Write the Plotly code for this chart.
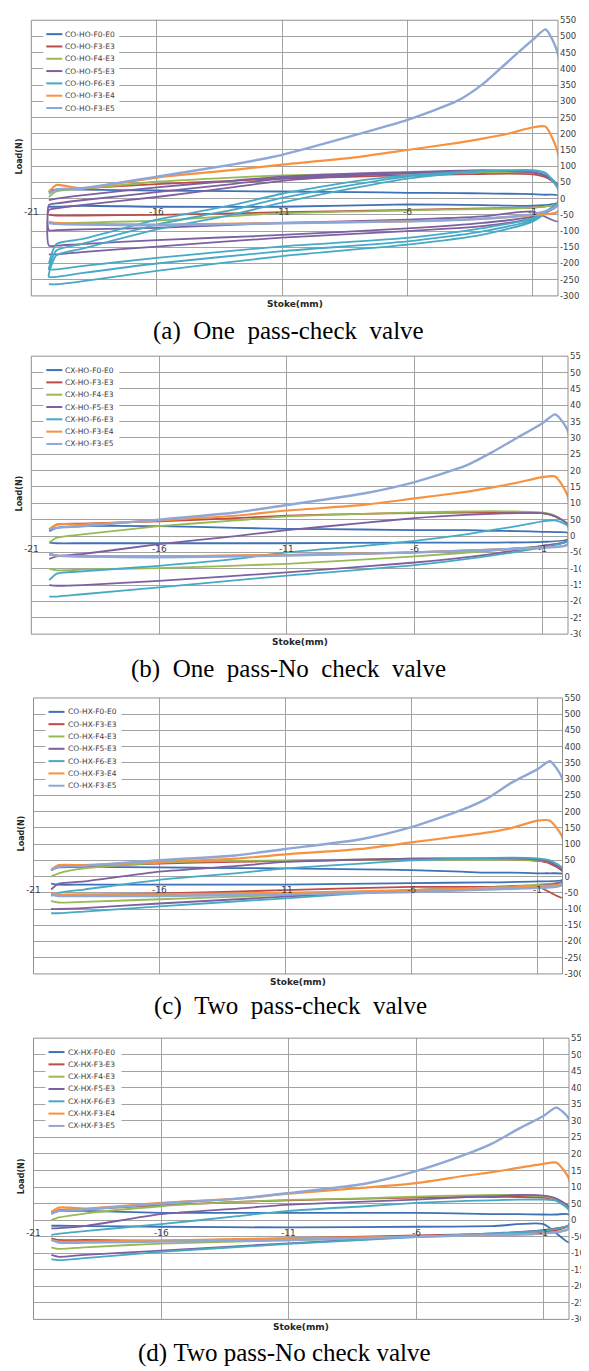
import plotly.graph_objects as go

W, H = 589, 1371

SERIES = ["F0-E0", "F3-E3", "F4-E3", "F5-E3", "F6-E3", "F3-E4", "F3-E5"]
PANEL_PREFIX = ["CO-HO", "CX-HO", "CO-HX", "CX-HX"]
CAPTIONS = ["(a)\u00a0\u00a0One\u00a0\u00a0pass-check\u00a0\u00a0valve",
            "(b)\u00a0\u00a0One\u00a0\u00a0pass-No\u00a0\u00a0check\u00a0\u00a0valve",
            "(c)\u00a0\u00a0Two\u00a0\u00a0pass-check\u00a0\u00a0valve",
            "(d)\u00a0Two\u00a0pass-No\u00a0check\u00a0valve"]
COLORS = ["#3F72B5", "#BE4B48", "#98B954", "#7D60A0", "#46AAC5", "#F69240", "#8EA7D6"]
WIDTHS = [1.8, 1.8, 1.8, 1.8, 1.8, 2.2, 2.4]
X_TICKS = [-21, -16, -11, -6, -1]
X_TICK_TEXT = ["-21", "-16", "-11", "-6", "-1"]
Y_TICKS = [550, 500, 450, 400, 350, 300, 250, 200, 150, 100, 50, 0,
           -50, -100, -150, -200, -250, -300]

# stroke positions (mm) of the outward (upper) and return (lower) branch
X_UP = [-20.3, -20, -19, -16, -13, -11, -8, -6, -4, -3, -2, -1, -0.5, 0]
X_LO = [0, -1, -3, -6, -11, -16, -19, -20, -20.3]

# ---------------- (a) One pass - check valve ----------------
A_F0E0_UP = [[25, 28, 28, 25, 23, 22, 20, 18, 17, 16, 15, 14, 12, 10]]
A_F0E0_LO = [[-12, -22, -20, -18, -25, -25, -22, -25, -25]]
A_F3E3_UP = [[20, 28, 32, 45, 55, 62, 68, 72, 75, 76, 77, 75, 66, 40]]
A_F3E3_LO = [[-15, -28, -30, -35, -42, -50, -52, -52, -50]]
A_F4E3_UP = [[5, 22, 30, 52, 65, 72, 76, 78, 80, 81, 82, 80, 72, 40]]
A_F4E3_LO = [[-15, -28, -32, -36, -45, -68, -74, -76, -72]]
A_F5E3_UP = [[-5, 0, 10, 35, 55, 68, 78, 82, 86, 88, 86, 82, 72, 40],
             [-20, -15, -5, 20, 45, 62, 75, 80, 85, 87, 86, 82, 70, 38],
             [-35, -30, -20, 5, 35, 55, 72, 78, 84, 86, 85, 80, 70, 36]]
A_F5E3_LO = [[-70, -40, -55, -65, -75, -90, -95, -97, -97],
             [-20, -55, -75, -92, -112, -128, -140, -145, -145],
             [-20, -60, -85, -100, -120, -148, -165, -172, -172]]
A_F6E3_UP = [[-200, -140, -125, -65, -20, 15, 55, 72, 82, 86, 88, 88, 80, 35],
             [-215, -160, -140, -80, -35, 2, 45, 68, 80, 85, 87, 87, 80, 33],
             [-232, -175, -155, -95, -50, -12, 35, 62, 78, 84, 86, 86, 78, 30]]
A_F6E3_LO = [[-10, -60, -91, -121, -147, -183, -208, -218, -218],
             [-10, -65, -101, -132, -162, -200, -230, -241, -241],
             [-10, -70, -111, -142, -177, -223, -255, -264, -264]]
A_F3E4_UP = [[20, 42, 32, 65, 88, 105, 128, 150, 172, 185, 200, 220, 222, 140]]
A_F3E4_LO = [[-40, -50, -62, -70, -75, -80, -78, -75, -72]]
A_F3E5_UP = [[15, 28, 32, 68, 105, 135, 198, 243, 302, 353, 422, 490, 522, 445]]
A_F3E5_LO = [[-20, -48, -62, -70, -76, -82, -80, -78, -75]]

# ---------------- (b) One pass - No check valve ----------------
B_F0E0_UP = [[15, 25, 30, 30, 25, 22, 20, 18, 18, 16, 15, 13, 12, 10]]
B_F0E0_LO = [[-10, -18, -20, -20, -22, -22, -22, -22, -20]]
B_F3E3_UP = [[20, 35, 38, 45, 55, 62, 68, 70, 72, 72, 72, 70, 60, 35]]
B_F3E3_LO = [[-15, -32, -42, -50, -58, -62, -62, -60, -55]]
B_F4E3_UP = [[-20, -5, 5, 30, 48, 60, 68, 72, 75, 76, 75, 72, 62, 35]]
B_F4E3_LO = [[-15, -30, -45, -62, -85, -98, -103, -105, -100]]
B_F5E3_UP = [[-70, -62, -55, -25, 0, 18, 40, 55, 65, 68, 70, 70, 60, 35]]
B_F5E3_LO = [[-15, -30, -55, -81, -111, -137, -150, -152, -150]]
B_F6E3_UP = [[-135, -115, -108, -91, -70, -50, -30, -15, 5, 18, 30, 45, 48, 30]]
B_F6E3_LO = [[-15, -35, -60, -89, -121, -157, -178, -185, -185]]
B_F3E4_UP = [[20, 35, 35, 48, 62, 78, 95, 115, 135, 148, 163, 180, 182, 120]]
B_F3E4_LO = [[-25, -35, -42, -50, -58, -62, -62, -60, -55]]
B_F3E5_UP = [[20, 25, 30, 50, 72, 95, 130, 165, 215, 255, 300, 345, 372, 320]]
B_F3E5_LO = [[-25, -35, -42, -50, -60, -65, -62, -60, -55]]

# ---------------- (c) Two pass - check valve ----------------
C_F0E0_UP = [[20, 28, 30, 28, 26, 25, 22, 20, 15, 12, 12, 10, 10, 8]]
C_F0E0_LO = [[-10, -15, -18, -20, -25, -25, -25, -25, -22]]
C_F3E3_UP = [[20, 30, 32, 40, 45, 48, 52, 55, 55, 55, 52, 48, 40, 15]]
C_F3E3_LO = [[-65, -30, -32, -32, -42, -52, -57, -58, -55]]
C_F4E3_UP = [[0, 10, 25, 42, 48, 50, 52, 52, 52, 52, 52, 50, 45, 25]]
C_F4E3_LO = [[-15, -25, -35, -42, -57, -70, -78, -80, -75]]
C_F5E3_UP = [[-40, -22, -15, 15, 32, 45, 52, 55, 56, 56, 56, 52, 44, 20]]
C_F5E3_LO = [[-15, -30, -35, -42, -62, -83, -97, -100, -100]]
C_F6E3_UP = [[-60, -50, -40, -10, 10, 25, 40, 50, 55, 57, 58, 56, 50, 25]]
C_F6E3_LO = [[-20, -32, -35, -42, -67, -92, -108, -113, -113]]
C_F3E4_UP = [[20, 35, 35, 45, 55, 68, 85, 105, 125, 135, 150, 172, 172, 120]]
C_F3E4_LO = [[-20, -30, -35, -42, -50, -55, -55, -55, -50]]
C_F3E5_UP = [[20, 30, 33, 50, 65, 85, 115, 152, 205, 240, 290, 330, 355, 300]]
C_F3E5_LO = [[-25, -35, -40, -48, -55, -60, -60, -60, -55]]

# ---------------- (d) Two pass - No check valve ----------------
D_F0E0_UP = [[20, 27, 28, 22, 22, 22, 22, 22, 20, 18, 18, 17, 17, 17]]
D_F0E0_LO = [[-67, -12, -18, -20, -22, -20, -18, -17, -17]]
D_F3E3_UP = [[20, 30, 33, 45, 55, 60, 65, 68, 70, 70, 70, 68, 60, 35]]
D_F3E3_LO = [[-15, -37, -42, -46, -55, -62, -60, -60, -55]]
D_F4E3_UP = [[0, 8, 20, 42, 55, 61, 66, 71, 75, 76, 76, 72, 62, 35]]
D_F4E3_LO = [[-15, -30, -42, -50, -61, -71, -82, -87, -82]]
D_F5E3_UP = [[-25, -24, -18, 18, 35, 47, 56, 62, 70, 72, 76, 74, 65, 40]]
D_F5E3_LO = [[-15, -30, -40, -50, -70, -92, -105, -111, -105]]
D_F6E3_UP = [[-45, -41, -33, -12, 12, 28, 42, 52, 58, 60, 62, 62, 58, 30]]
D_F6E3_LO = [[-15, -32, -40, -51, -72, -96, -115, -121, -118]]
D_F3E4_UP = [[25, 38, 35, 52, 65, 80, 98, 112, 135, 145, 158, 170, 174, 125]]
D_F3E4_LO = [[-25, -40, -45, -50, -55, -62, -65, -65, -60]]
D_F3E5_UP = [[20, 28, 32, 50, 65, 82, 110, 148, 200, 232, 275, 315, 340, 305]]
D_F3E5_LO = [[-25, -40, -45, -50, -60, -65, -68, -68, -60]]

PANELS = [
    [(A_F0E0_UP, A_F0E0_LO), (A_F3E3_UP, A_F3E3_LO), (A_F4E3_UP, A_F4E3_LO),
     (A_F5E3_UP, A_F5E3_LO), (A_F6E3_UP, A_F6E3_LO), (A_F3E4_UP, A_F3E4_LO),
     (A_F3E5_UP, A_F3E5_LO)],
    [(B_F0E0_UP, B_F0E0_LO), (B_F3E3_UP, B_F3E3_LO), (B_F4E3_UP, B_F4E3_LO),
     (B_F5E3_UP, B_F5E3_LO), (B_F6E3_UP, B_F6E3_LO), (B_F3E4_UP, B_F3E4_LO),
     (B_F3E5_UP, B_F3E5_LO)],
    [(C_F0E0_UP, C_F0E0_LO), (C_F3E3_UP, C_F3E3_LO), (C_F4E3_UP, C_F4E3_LO),
     (C_F5E3_UP, C_F5E3_LO), (C_F6E3_UP, C_F6E3_LO), (C_F3E4_UP, C_F3E4_LO),
     (C_F3E5_UP, C_F3E5_LO)],
    [(D_F0E0_UP, D_F0E0_LO), (D_F3E3_UP, D_F3E3_LO), (D_F4E3_UP, D_F4E3_LO),
     (D_F5E3_UP, D_F5E3_LO), (D_F6E3_UP, D_F6E3_LO), (D_F3E4_UP, D_F3E4_LO),
     (D_F3E5_UP, D_F3E5_LO)],
]

# layout geometry (pixels): left, right, top, bottom of each plot area
BOX = [(23.3, 550.0, 7.3, 285.0),
       (23.3, 560.0, 345.7, 625.7),
       (25.5, 554.5, 690.0, 968.0),
       (25.5, 561.0, 1032.7, 1316.0)]
CAPTION_Y = [320, 661, 1000, 1350]
CAPTION_X = [280, 280, 282, 276]
GRID = "#A3A3A3"
TXT = "#404040"
FONT = "DejaVu Sans"

fig = go.Figure()
layout = dict(width=W, height=H, margin=dict(l=0, r=0, t=0, b=0),
              paper_bgcolor="white", plot_bgcolor="white", showlegend=False)
shapes, annotations = [], []

def px(x):
    return x / W

def py(y):
    return 1 - y / H

for i, (l, r, t, b) in enumerate(BOX):
    s = "" if i == 0 else str(i + 1)
    layout["xaxis" + s] = dict(
        domain=[px(l), px(r)], range=[-21, 0], anchor="y" + s,
        tickmode="array", tickvals=X_TICKS, showticklabels=False,
        showgrid=True, gridcolor=GRID, gridwidth=1, zeroline=False,
        showline=False, ticks="")
    layout["yaxis" + s] = dict(
        domain=[py(b), py(t)], range=[-300, 550], anchor="x" + s,
        side="right", tickmode="array", tickvals=Y_TICKS,
        ticktext=[str(v) for v in Y_TICKS], showgrid=True, gridcolor=GRID,
        gridwidth=1, zeroline=False, showline=False, ticks="",
        ticklabelstandoff=1, tickfont=dict(family=FONT, size=8.5, color=TXT))

    # traces
    for k, (ups, los) in enumerate(PANELS[i]):
        xs, ys = [], []
        for up, lo in zip(ups, los):
            xs += X_UP + X_LO
            ys += up + lo
        fig.add_trace(go.Scatter(
            x=xs, y=ys, mode="lines", xaxis="x" + s, yaxis="y" + s,
            line=dict(color=COLORS[k], width=WIDTHS[k], shape="spline", smoothing=0.6),
            name=PANEL_PREFIX[i] + "-" + SERIES[k], hoverinfo="skip"))

    # frame
    shapes.append(dict(type="rect", xref="x" + s + " domain", yref="y" + s + " domain",
                       x0=0, x1=1, y0=0, y1=1, line=dict(color="#8F8F8F", width=1),
                       layer="above"))
    # x tick labels at the zero line
    for v, tt in zip(X_TICKS, X_TICK_TEXT):
        annotations.append(dict(xref="x" + s, yref="y" + s, x=v, y=0, yshift=-13,
                                xanchor="center", yanchor="middle",
                                text=tt, showarrow=False,
                                font=dict(family=FONT, size=9, color=TXT)))
    # legend
    shapes.append(dict(type="rect", xref="paper", yref="paper",
                       x0=px(l + 12), x1=px(l + 88), y0=py(t + 93), y1=py(t + 8),
                       fillcolor="white", line=dict(width=0), layer="above"))
    for k, ser in enumerate(SERIES):
        yy = t + 14 + 12.4 * k
        shapes.append(dict(type="line", xref="paper", yref="paper",
                           x0=px(l + 15), x1=px(l + 31), y0=py(yy), y1=py(yy),
                           line=dict(color=COLORS[k], width=2), layer="above"))
        annotations.append(dict(xref="paper", yref="paper", x=px(l + 32), y=py(yy),
                                xanchor="left", yanchor="middle", showarrow=False,
                                text=PANEL_PREFIX[i] + "-" + ser,
                                font=dict(family=FONT, size=7.5, color=TXT)))
    # axis titles
    annotations.append(dict(xref="paper", yref="paper", x=px(l - 12), y=py((t + b) / 2 - 2),
                            xanchor="center", yanchor="middle",
                            text="<b>Load(N)</b>", textangle=-90, showarrow=False,
                            font=dict(family=FONT, size=8, color="#262626")))
    annotations.append(dict(xref="paper", yref="paper", x=px((l + r) / 2), y=py(b + 8),
                            xanchor="center", yanchor="middle",
                            text="<b>Stoke(mm)</b>", showarrow=False,
                            font=dict(family=FONT, size=9, color="#262626")))
    # caption
    annotations.append(dict(xref="paper", yref="paper", x=px(CAPTION_X[i]), y=py(CAPTION_Y[i]),
                            xanchor="center", yanchor="middle",
                            text=CAPTIONS[i], showarrow=False,
                            font=dict(family="Liberation Serif", size=25, color="black")))

layout["shapes"] = shapes
layout["annotations"] = annotations
fig.update_layout(**layout)
fig.write_html("out.html")
